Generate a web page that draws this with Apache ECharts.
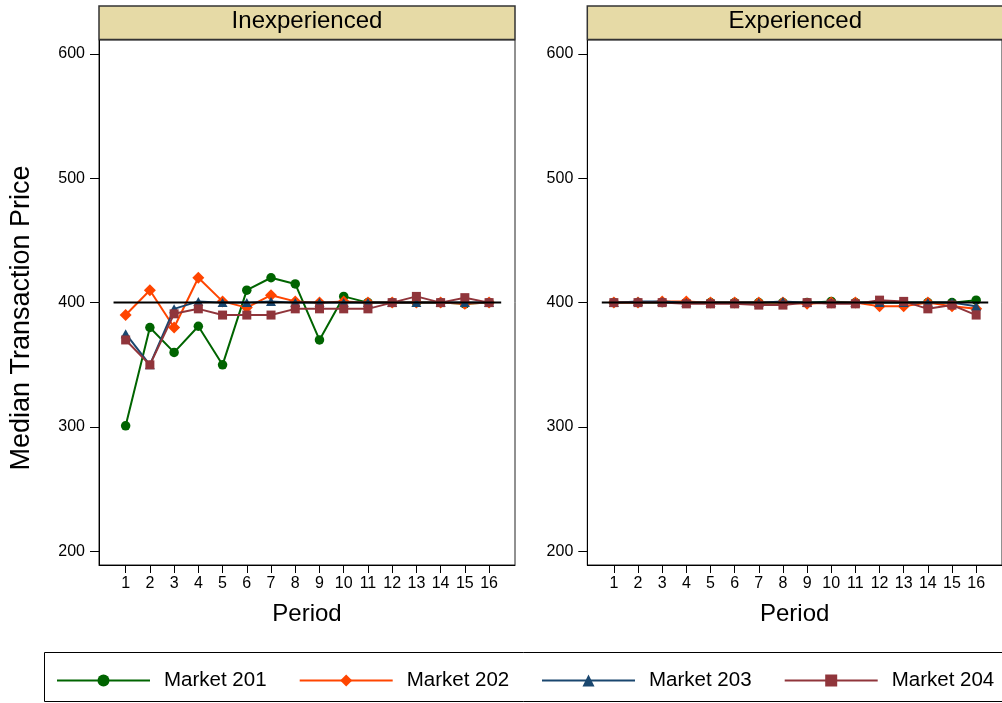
<!DOCTYPE html>
<html>
<head>
<meta charset="utf-8">
<script src="https://cdn.jsdelivr.net/npm/echarts@6/dist/echarts.min.js"></script>
<style>
html,body{margin:0;padding:0;background:#fff;}
#chart{width:1002px;height:703px;}
</style>
</head>
<body>
<div id="chart"></div>
<script>
// ---- Data ----
const periods = [1,2,3,4,5,6,7,8,9,10,11,12,13,14,15,16];
const panelTitles = ['Inexperienced', 'Experienced'];
const seriesNames = ['Market 201', 'Market 202', 'Market 203', 'Market 204'];
const yTicks = [200, 300, 400, 500, 600];
const referencePrice = 400;

// Inexperienced panel
const inexp201 = [301, 380, 360, 381, 350, 410, 420, 415, 370, 405, 400, 400, 400, 400, 399, 400];
const inexp202 = [390, 410, 380, 420, 401, 396, 406, 401, 400, 401, 400, 400, 400, 400, 399, 400];
const inexp203 = [375, 350, 395, 401, 400, 400, 401, 400, 400, 400, 400, 400, 400, 400, 400, 400];
const inexp204 = [370, 350, 391, 395, 390, 390, 390, 395, 395, 395, 395, 400, 405, 400, 404, 400];

// Experienced panel
const exp201 = [400, 400, 400, 400, 400, 400, 400, 400, 400, 401, 400, 400, 400, 400, 400, 402];
const exp202 = [400, 400, 401, 401, 400, 400, 400, 400, 399, 400, 400, 397, 397, 400, 397, 395];
const exp203 = [400, 401, 401, 400, 400, 400, 400, 401, 400, 400, 400, 400, 400, 400, 400, 397];
const exp204 = [400, 400, 400, 399, 399, 399, 398, 398, 400, 399, 399, 402, 401, 395, 398, 390];

// ---- Styles ----
const FONT = "'Liberation Sans', Arial, Helvetica, sans-serif";
const colors = ['#006400', '#FF4500', '#1A476F', '#90353B'];
const symbols = ['circle', 'diamond', 'triangle', 'rect'];
const symbolSizes = [9.5, 12, [10, 9], 9];

const panelData = [
  [inexp201, inexp202, inexp203, inexp204],
  [exp201, exp202, exp203, exp204]
];

const gridTop = 40, gridH = 525, gridW = 416;
const gridLefts = [99, 587.3];

const grids = gridLefts.map(l => ({
  left: l, top: gridTop, width: gridW, height: gridH,
  show: true, borderColor: '#222', borderWidth: 1, backgroundColor: '#fff'
}));

const xAxes = gridLefts.map((l, i) => ({
  type: 'value', gridIndex: i, min: -0.1, max: 17.07,
  name: 'Period', nameLocation: 'middle', nameGap: 37,
  nameTextStyle: {fontFamily: FONT, fontSize: 24, color: '#000'},
  axisLine: {show: true, onZero: false, lineStyle: {color: '#000', width: 1}},
  axisTick: {show: true, length: 8, customValues: periods, lineStyle: {color: '#000'}},
  axisLabel: {customValues: periods, fontFamily: FONT, fontSize: 16, color: '#000', margin: 11},
  splitLine: {show: false}
}));

const yAxes = gridLefts.map((l, i) => ({
  type: 'value', gridIndex: i, min: 189.1, max: 611.1,
  axisLine: {show: true, onZero: false, lineStyle: {color: '#000', width: 1}},
  axisTick: {show: true, length: 9, customValues: yTicks, lineStyle: {color: '#000'}},
  axisLabel: {customValues: yTicks, fontFamily: FONT, fontSize: 16, color: '#000', margin: 14},
  splitLine: {show: false}
}));

const series = [];
panelData.forEach((sets, p) => {
  sets.forEach((vals, s) => {
    series.push({
      name: seriesNames[s], type: 'line',
      xAxisIndex: p, yAxisIndex: p,
      data: periods.map((x, k) => [x, vals[k]]),
      symbol: symbols[s], symbolSize: symbolSizes[s], showSymbol: true,
      itemStyle: {color: colors[s]},
      lineStyle: {color: colors[s], width: 2},
      animation: false, z: 2 + s
    });
  });
  series.push({
    name: 'ref' + p, type: 'line', xAxisIndex: p, yAxisIndex: p,
    data: [[0.5, referencePrice], [16.5, referencePrice]],
    symbol: 'none', lineStyle: {color: '#000', width: 2},
    animation: false, z: 10, silent: true
  });
});

const legendLefts = [56, 298.7, 541, 783.7];
const legends = seriesNames.map((n, i) => ({
  data: [n], left: legendLefts[i], top: 670, padding: 0,
  itemWidth: 93, itemHeight: 15, selectedMode: false,
  textStyle: {fontFamily: FONT, fontSize: 20.5, color: '#000', padding: [0, 0, 0, 9]}
}));

const headers = [];
gridLefts.forEach((l, i) => {
  headers.push({
    type: 'rect', shape: {x: l, y: 6, width: gridW, height: 33.5},
    style: {fill: '#E6DAA6', stroke: '#333', lineWidth: 1.5}, z: 1
  });
  headers.push({
    type: 'text', x: l + gridW / 2, y: 21, z: 2,
    style: {text: panelTitles[i], font: '24px ' + FONT, fill: '#000',
            textAlign: 'center', textVerticalAlign: 'middle'}
  });
});

const option = {
  backgroundColor: '#fff',
  animation: false,
  grid: grids,
  xAxis: xAxes,
  yAxis: yAxes,
  legend: legends,
  series: series,
  graphic: headers.concat([
    {
      type: 'text', x: 22, y: 318, rotation: Math.PI / 2, z: 2,
      style: {text: 'Median Transaction Price', font: '27px ' + FONT, fill: '#000',
              textAlign: 'center', textVerticalAlign: 'middle'}
    },
    {
      type: 'rect', shape: {x: 44.5, y: 652.5, width: 1000, height: 49},
      style: {fill: 'none', stroke: '#000', lineWidth: 1}, z: 0
    }
  ])
};

const chart = echarts.init(document.getElementById('chart'), null, {renderer: 'canvas'});
chart.setOption(option);
</script>
</body>
</html>
